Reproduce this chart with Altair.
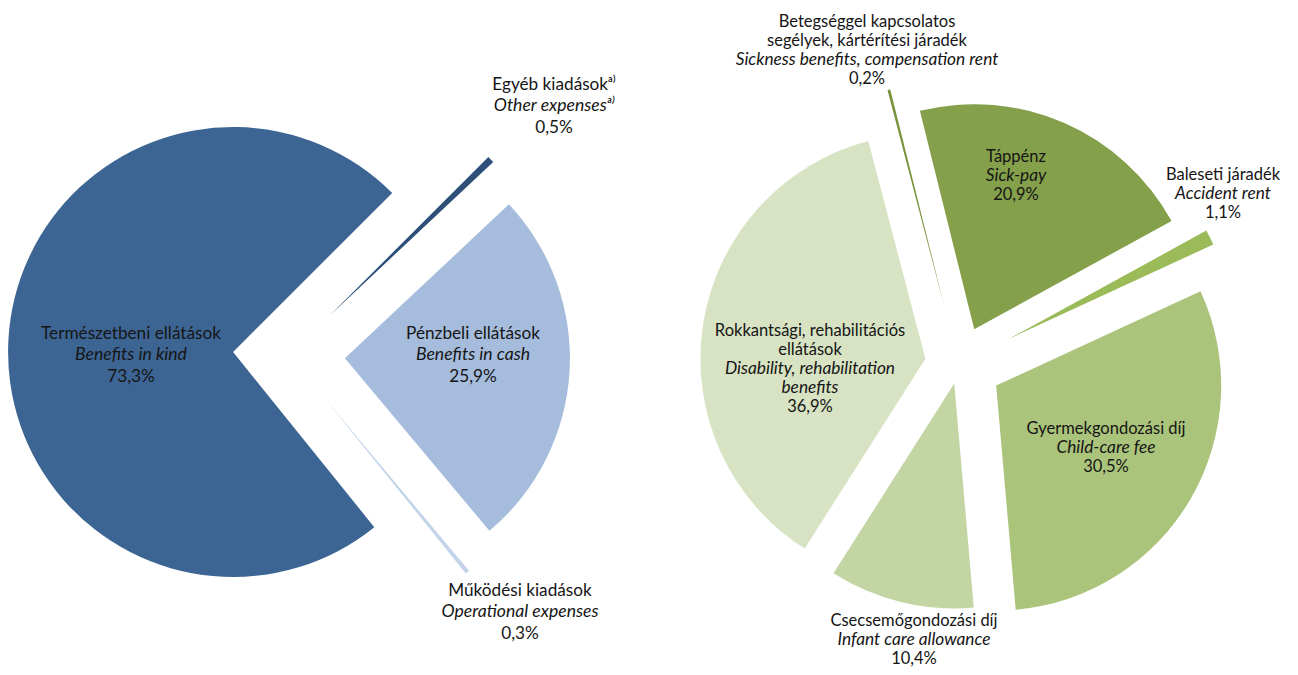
import altair as alt
import pandas as pd

# ---------------- data ----------------
# Left pie (clockwise drawing order)
left_hu = ["Egyéb kiadásokᵃ⁾", "Pénzbeli ellátások", "Működési kiadások", "Természetbeni ellátások"]
left_en = ["Other expensesᵃ⁾", "Benefits in cash", "Operational expenses", "Benefits in kind"]
left_pct = [0.5, 25.9, 0.3, 73.3]

# Right pie (clockwise drawing order)
right_hu = ["Betegséggel kapcsolatos\nsegélyek, kártérítési járadék", "Táppénz", "Baleseti járadék",
            "Gyermekgondozási díj", "Csecsemőgondozási díj", "Rokkantsági, rehabilitációs\nellátások"]
right_en = ["Sickness benefits, compensation rent", "Sick-pay", "Accident rent",
            "Child-care fee", "Infant care allowance", "Disability, rehabilitation\nbenefits"]
right_pct = [0.2, 20.9, 1.1, 30.5, 10.4, 36.9]

# ---------------- styles / layout ----------------
left_colors = ["#2d4f78", "#a5bcdc", "#c3d4ea", "#3d6594"]
right_colors = ["#77933c", "#84a04b", "#9bbb59", "#abc47b", "#c3d5a3", "#d7e3c3"]
left_explode = [56, 56, 56, 56]
right_explode = [58, 38, 56, 43, 20, 34]
left_label_dx = [265, 184, 231, -158]
left_label_dy = [-249, 0, 257, 0]
right_label_dx = [-92, 57, 264, 147, -45, -149]
right_label_dy = [-314, -188, -170, 84, 276, 5]

pies = [
    dict(pie="L", hu=left_hu, en=left_en, pct=left_pct, colors=left_colors, explode=left_explode,
         ldx=left_label_dx, ldy=left_label_dy, cx=281, cy=347, start=45.0,
         fs=17.2, fsi=17.6, lh=21.5),
    dict(pie="R", hu=right_hu, en=right_en, pct=right_pct, colors=right_colors, explode=right_explode,
         ldx=right_label_dx, ldy=right_label_dy, cx=951, cy=356, start=-14.7,
         fs=16.5, fsi=17.3, lh=19),
]

arc_rows, text_rows = [], []
for p in pies:
    for k, (hu, en, v) in enumerate(zip(p["hu"], p["en"], p["pct"])):
        arc_rows.append(dict(pie=p["pie"], order=k, cat=hu, pct=v, color=p["colors"][k],
                             explode=p["explode"][k], cx=p["cx"], cy=p["cy"], start=p["start"]))
        lines = [(t, "normal") for t in hu.split("\n")] + [(t, "italic") for t in en.split("\n")] + \
                [(f"{v:.1f}".replace(".", ",") + "%", "normal")]
        n = len(lines)
        for i, (t, st) in enumerate(lines):
            text_rows.append(dict(pie=p["pie"], text=t, style=st,
                                  tx=p["cx"] + p["ldx"][k],
                                  ty=p["cy"] + p["ldy"][k] + (i - (n - 1) / 2) * p["lh"],
                                  fs=p["fsi"] if st == "italic" else p["fs"]))

arc_df = pd.DataFrame(arc_rows)
text_df = pd.DataFrame(text_rows)

arcs = alt.Chart(arc_df).transform_window(
    cum="sum(pct)", groupby=["pie"], sort=[alt.SortField("order")]
).transform_joinaggregate(
    total="sum(pct)", groupby=["pie"]
).transform_calculate(
    a0="datum.start*PI/180 + 2*PI*(datum.cum-datum.pct)/datum.total",
    a1="datum.start*PI/180 + 2*PI*datum.cum/datum.total",
).transform_calculate(
    mid="(datum.a0+datum.a1)/2"
).transform_calculate(
    ax="datum.cx + datum.explode*sin(datum.mid)",
    ay="datum.cy - datum.explode*cos(datum.mid)",
).mark_arc(radius=225).encode(
    x=alt.X("ax:Q", scale=None, axis=None),
    y=alt.Y("ay:Q", scale=None, axis=None),
    theta=alt.Theta("a0:Q", scale=None),
    theta2="a1:Q",
    color=alt.Color("color:N", scale=None, legend=None),
)

base_text = alt.Chart(text_df).encode(
    x=alt.X("tx:Q", scale=None, axis=None),
    y=alt.Y("ty:Q", scale=None, axis=None),
    text="text:N",
    size=alt.Size("fs:Q", scale=None, legend=None),
)
normal_text = base_text.transform_filter(alt.datum.style == "normal").mark_text(
    font="Lato", color="#151515", align="center", baseline="middle")
italic_text = base_text.transform_filter(alt.datum.style == "italic").mark_text(
    font="Lato", fontStyle="italic", color="#151515", align="center", baseline="middle")

chart = alt.layer(arcs, normal_text, italic_text).properties(
    width=1282, height=659, padding=0, autosize=alt.AutoSizeParams(type="none")
).configure_view(stroke=None)

chart.save("out.html", embed_options={"renderer": "svg", "actions": False})
